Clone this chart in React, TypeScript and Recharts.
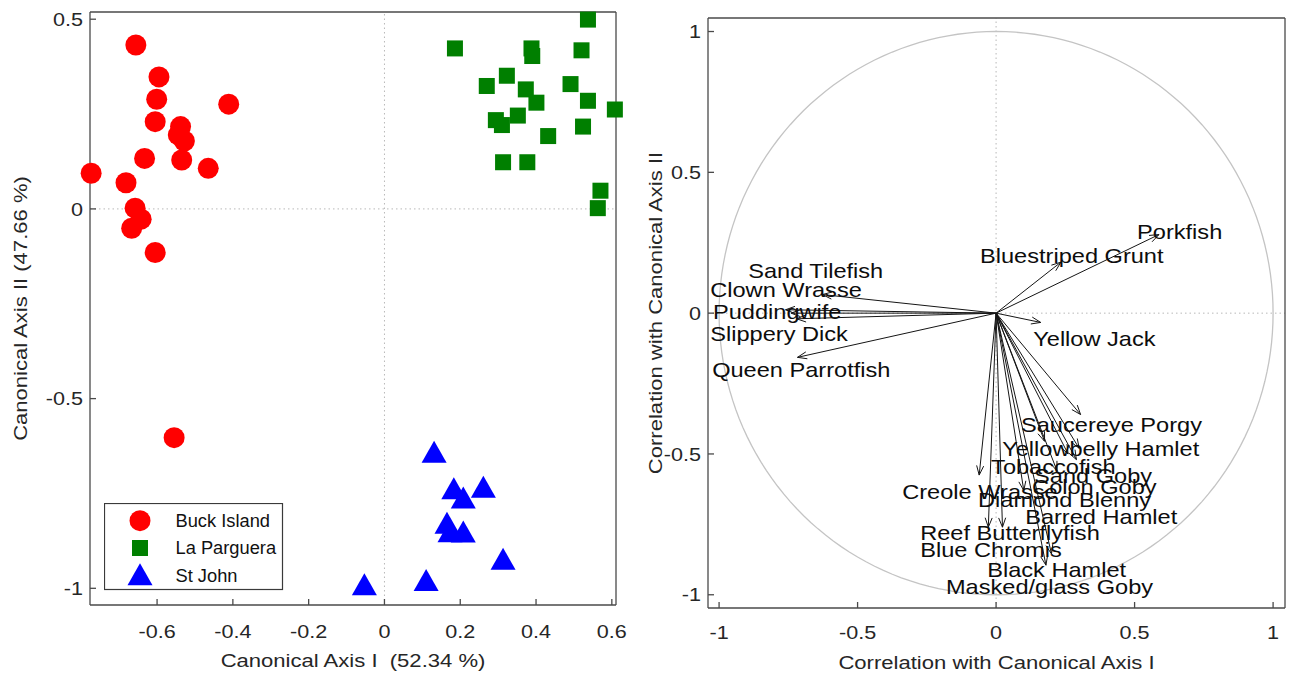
import React from 'react';
import { ScatterChart, Scatter, XAxis, YAxis, ReferenceLine, Legend } from 'recharts';

const FONT = '"Liberation Sans", Arial, Helvetica, sans-serif';
const AXIS_COLOR = '#4a4a4a';
const TEXT_COLOR = '#262626';
const SX = 1.18;
const RED = '#ff0000';
const GREEN = '#007f00';
const BLUE = '#0000ff';

// ---------- Left panel: canonical scores ----------
const siteNames = ['Buck Island', 'La Parguera', 'St John'];

const buckX = [-0.656, -0.595, -0.601, -0.605, -0.411, -0.538, -0.544, -0.528, -0.535, -0.633, -0.465, -0.774, -0.682, -0.658, -0.642, -0.667, -0.605, -0.555];
const buckY = [0.432, 0.348, 0.289, 0.23, 0.276, 0.217, 0.195, 0.179, 0.129, 0.133, 0.107, 0.094, 0.069, 0.002, -0.027, -0.051, -0.115, -0.603];

const parX = [0.537, 0.186, 0.388, 0.39, 0.52, 0.323, 0.27, 0.491, 0.373, 0.401, 0.537, 0.608, 0.352, 0.294, 0.31, 0.524, 0.432, 0.313, 0.377, 0.57, 0.563];
const parY = [0.499, 0.423, 0.423, 0.403, 0.418, 0.351, 0.324, 0.329, 0.315, 0.28, 0.285, 0.262, 0.246, 0.234, 0.221, 0.217, 0.192, 0.123, 0.123, 0.048, 0.002];

const stjX = [0.131, 0.183, 0.208, 0.261, 0.165, 0.173, 0.208, 0.313, 0.11, -0.053];
const stjY = [-0.643, -0.739, -0.763, -0.735, -0.83, -0.852, -0.853, -0.925, -0.981, -0.992];

const leftXTicks = [-0.6, -0.4, -0.2, 0, 0.2, 0.4, 0.6];
const leftYTicks = [-1, -0.5, 0, 0.5];
const leftXDomain = [-0.777, 0.611];
const leftYDomain = [-1.044, 0.519];

// ---------- Right panel: species correlations ----------
const species = [
  'Porkfish', 'Bluestriped Grunt', 'Sand Tilefish', 'Clown Wrasse', 'Puddingwife',
  'Slippery Dick', 'Queen Parrotfish', 'Yellow Jack', 'Saucereye Porgy', 'Yellowbelly Hamlet',
  'Tobaccofish', 'Sand Goby', 'Colon Goby', 'Creole Wrasse', 'Diamond Blenny',
  'Barred Hamlet', 'Reef Butterflyfish', 'Blue Chromis', 'Black Hamlet', 'Masked/glass Goby',
];
const corrI = [0.588, 0.234, -0.627, -0.76, -0.74, -0.72, -0.717, 0.161, 0.305, 0.3, 0.175, 0.26, 0.29, -0.061, 0.1, 0.22, -0.028, 0.023, 0.2, 0.18];
const corrII = [0.279, 0.181, 0.066, 0.012, 0.0, -0.02, -0.157, -0.033, -0.36, -0.48, -0.455, -0.5, -0.52, -0.575, -0.63, -0.56, -0.76, -0.76, -0.855, -0.895];
// label anchor (start of text, vertical middle) in correlation units
const labelI = [0.509, -0.058, -0.895, -1.032, -1.022, -1.032, -1.025, 0.134, 0.09, 0.022, -0.018, 0.137, 0.13, -0.339, -0.065, 0.105, -0.274, -0.274, -0.032, -0.181];
const labelII = [0.289, 0.203, 0.15, 0.083, 0.005, -0.073, -0.201, -0.091, -0.396, -0.482, -0.546, -0.578, -0.617, -0.634, -0.663, -0.723, -0.78, -0.841, -0.912, -0.972];

const rightTicks = [-1, -0.5, 0, 0.5, 1];
const rightXDomain = [-1.04, 1.043];
const rightYDomain = [-1.047, 1.048];

// ---------- derived tables ----------
const buckData = buckX.map((x, i) => ({ x, y: buckY[i] }));
const parData = parX.map((x, i) => ({ x, y: parY[i] }));
const stjData = stjX.map((x, i) => ({ x, y: stjY[i] }));

const arrowData = species.map((name, i) => [
  { x: 0, y: 0, name },
  { x: corrI[i], y: corrII[i], name },
]);
const labelData = species.map((name, i) => ({ x: labelI[i], y: labelII[i], name }));

// unit circle (reference geometry, not data)
const CIRCLE_STEPS = 180;
const circleData = Array.from({ length: CIRCLE_STEPS + 1 }, (_, k) => {
  const t = (2 * Math.PI * k) / CIRCLE_STEPS;
  return { x: Math.cos(t), y: Math.sin(t) };
});

// ---------- helpers ----------
function SText(props: any) {
  const { x, y, children, anchor = 'start', size = 18, sx = SX, rotate = 0, dy = '0.35em', fill = TEXT_COLOR } = props;
  const t = `translate(${x},${y})${rotate ? ` rotate(${rotate})` : ''} scale(${sx},1)`;
  return (
    <text transform={t} textAnchor={anchor} dy={dy} fontSize={size} fontFamily={FONT} fill={fill} style={{ whiteSpace: 'pre' }}>
      {children}
    </text>
  );
}

const fmt = (v: number) => (v === 0 ? '0' : String(v));

function XTick(props: any) {
  const { x, y, payload } = props;
  return <SText x={x} y={y} anchor="middle" dy="0.71em" size={18.3}>{fmt(payload.value)}</SText>;
}
function YTick(props: any) {
  const { x, y, payload } = props;
  return <SText x={x} y={y} anchor="end" dy="0.36em" size={18.3}>{fmt(payload.value)}</SText>;
}
function XTitle(props: any) {
  const vb = props.viewBox || { x: 0, y: 0, width: 0, height: 0 };
  return <SText x={vb.x + vb.width / 2} y={vb.y + props.off} anchor="middle" size={18.7}>{props.text}</SText>;
}
function YTitle(props: any) {
  const vb = props.viewBox || { x: 0, y: 0, width: 0, height: 0 };
  return <SText x={vb.x + props.off} y={vb.y + vb.height / 2} anchor="middle" rotate={-90} size={18.7}>{props.text}</SText>;
}

const triPoints = (x: number, y: number, w = 12.5, up = 12, down = 10) =>
  `${x},${y - up} ${x - w},${y + down} ${x + w},${y + down}`;

const circleShape = (p: any) => <circle cx={p.cx} cy={p.cy} r={10.5} fill={RED} />;
const squareShape = (p: any) => <rect x={p.cx - 8} y={p.cy - 8} width={16} height={16} fill={GREEN} />;
const triangleShape = (p: any) => <polygon points={triPoints(p.cx, p.cy)} fill={BLUE} />;
const noShape = () => <g />;

function LegendMarker({ kind, x, y }: { kind: number; x: number; y: number }) {
  if (kind === 0) return <circle cx={x} cy={y} r={10.5} fill={RED} />;
  if (kind === 1) return <rect x={x - 8} y={y - 8} width={16} height={16} fill={GREEN} />;
  return <polygon points={triPoints(x, y, 12.5, 12, 10)} fill={BLUE} />;
}

function SiteLegend(props: any) {
  const payload = (props.payload || []).filter((p: any) => siteNames.indexOf(p.value) >= 0);
  return (
    <svg width={180} height={88} style={{ display: 'block' }}>
      <rect x={0.5} y={0.5} width={178} height={86} fill="#fff" stroke="#3a3a3a" strokeWidth={1.2} />
      {payload.map((p: any, i: number) => {
        const kind = siteNames.indexOf(p.value);
        const cy = 17.7 + kind * 27.3;
        return (
          <g key={i}>
            <LegendMarker kind={kind} x={36} y={cy} />
            <text x={71.5} y={cy} dy="0.35em" fontSize={18.3} fontFamily={FONT} fill="#111">{p.value}</text>
          </g>
        );
      })}
    </svg>
  );
}

const arrowLine = (p: any) => {
  const pts = p.points || [];
  if (pts.length < 2) return <g />;
  const a = pts[0];
  const b = pts[pts.length - 1];
  const ang = Math.atan2(b.y - a.y, b.x - a.x);
  const L = 10;
  const W = 0.36;
  const h1x = b.x - L * Math.cos(ang - W);
  const h1y = b.y - L * Math.sin(ang - W);
  const h2x = b.x - L * Math.cos(ang + W);
  const h2y = b.y - L * Math.sin(ang + W);
  return (
    <g stroke="#151515" strokeWidth={1} fill="none">
      <line x1={a.x} y1={a.y} x2={b.x} y2={b.y} />
      <polyline points={`${h1x},${h1y} ${b.x},${b.y} ${h2x},${h2y}`} />
    </g>
  );
};

const labelShape = (p: any) => (
  <SText x={p.cx} y={p.cy} anchor="start" size={20} fill="#0d0d0d">{p.payload && p.payload.name}</SText>
);

const zeroLine = { stroke: '#b8b8b8', strokeWidth: 1, strokeDasharray: '1.5 3' };

export default function App() {
  return (
    <div style={{ position: 'absolute', left: 0, top: 0, width: 1291, height: 673, background: '#fff' }}>
      <style>{'body{margin:0;background:#fff}'}</style>
      <div style={{ position: 'absolute', left: 0, top: 0 }}>
        <ScatterChart width={640} height={673} margin={{ top: 11, right: 23, bottom: 8, left: 30 }}>
          <XAxis
            dataKey="x" type="number" domain={leftXDomain} ticks={leftXTicks} interval={0}
            tick={<XTick />} tickSize={-6} tickMargin={26} height={60} stroke={AXIS_COLOR} strokeWidth={1.3}
            label={<XTitle text={'Canonical Axis I  (52.34 %)'} off={55} />}
          />
          <XAxis
            xAxisId="top" dataKey="x" orientation="top" type="number" domain={leftXDomain} allowDataOverflow
            ticks={leftXTicks} interval={0} tick={false} tickSize={-6} height={1} stroke={AXIS_COLOR} strokeWidth={1.3}
          />
          <YAxis
            dataKey="y" type="number" domain={leftYDomain} ticks={leftYTicks} interval={0}
            tick={<YTick />} tickSize={-6} tickMargin={13} width={60} stroke={AXIS_COLOR} strokeWidth={1.3}
            label={<YTitle text="Canonical Axis II (47.66 %)" off={-9.6} />}
          />
          <YAxis
            yAxisId="right" dataKey="y" orientation="right" type="number" domain={leftYDomain} allowDataOverflow
            ticks={leftYTicks} interval={0} tick={false} tickSize={-6} width={1} stroke={AXIS_COLOR} strokeWidth={1.3}
          />
          <ReferenceLine x={0} {...zeroLine} />
          <ReferenceLine y={0} {...zeroLine} />
          <Scatter xAxisId="top" yAxisId="right" data={buckData} shape={noShape} legendType="none" isAnimationActive={false} />
          <Scatter name={siteNames[0]} data={buckData} fill={RED} shape={circleShape} isAnimationActive={false} />
          <Scatter name={siteNames[1]} data={parData} fill={GREEN} shape={squareShape} isAnimationActive={false} />
          <Scatter name={siteNames[2]} data={stjData} fill={BLUE} shape={triangleShape} isAnimationActive={false} />
          <Legend
            layout="vertical" align="center" verticalAlign="middle"
            wrapperStyle={{ left: 104, top: 503, width: 180, height: 88 }}
            content={<SiteLegend />}
          />
        </ScatterChart>
      </div>
      <div style={{ position: 'absolute', left: 640, top: 0 }}>
        <ScatterChart width={651} height={673} margin={{ top: 17, right: 5, bottom: 8, left: 28 }}>
          <XAxis
            dataKey="x" type="number" domain={rightXDomain} ticks={rightTicks} interval={0}
            tick={<XTick />} tickSize={-6} tickMargin={24} height={57} stroke={AXIS_COLOR} strokeWidth={1.3}
            label={<XTitle text="Correlation with Canonical Axis I" off={54} />}
          />
          <XAxis
            xAxisId="top" dataKey="x" orientation="top" type="number" domain={rightXDomain} allowDataOverflow
            ticks={rightTicks} interval={0} tick={false} tickSize={-6} height={1} stroke={AXIS_COLOR} strokeWidth={1.3}
          />
          <YAxis
            dataKey="y" type="number" domain={rightYDomain} ticks={rightTicks} interval={0}
            tick={<YTick />} tickSize={-6} tickMargin={13} width={40} stroke={AXIS_COLOR} strokeWidth={1.3}
            label={<YTitle text="Correlation with Canonical Axis II" off={-13} />}
          />
          <YAxis
            yAxisId="right" dataKey="y" orientation="right" type="number" domain={rightYDomain} allowDataOverflow
            ticks={rightTicks} interval={0} tick={false} tickSize={-6} width={1} stroke={AXIS_COLOR} strokeWidth={1.3}
          />
          <ReferenceLine x={0} {...zeroLine} />
          <ReferenceLine y={0} {...zeroLine} />
          <Scatter xAxisId="top" yAxisId="right" data={circleData} shape={noShape} legendType="none" isAnimationActive={false} />
          <Scatter data={circleData} fill="#c4c4c4" line={{ stroke: '#c4c4c4', strokeWidth: 1.3 }} shape={noShape} isAnimationActive={false} />
          {arrowData.map((pts, i) => (
            <Scatter key={species[i]} data={pts} fill="#151515" line={arrowLine} shape={noShape} isAnimationActive={false} />
          ))}
          <Scatter data={labelData} fill="#111" shape={labelShape} isAnimationActive={false} />
        </ScatterChart>
      </div>
    </div>
  );
}
